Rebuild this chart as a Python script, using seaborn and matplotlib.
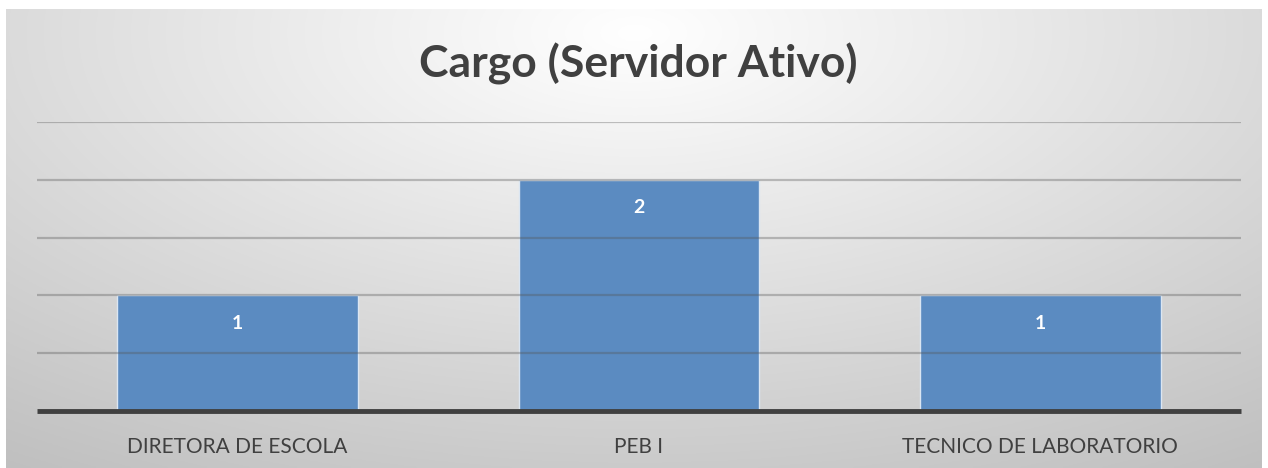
import numpy as np
import pandas as pd
import matplotlib
matplotlib.use("Agg")
import matplotlib.pyplot as plt
import seaborn as sns

categories = ["DIRETORA DE ESCOLA", "PEB I", "TECNICO DE LABORATORIO"]
values = [1, 2, 1]
title = "Cargo (Servidor Ativo)"

sns.set_theme(style="white")
plt.rcParams["font.family"] = ["Lato", "DejaVu Sans"]

W, H = 1268, 468
fig = plt.figure(figsize=(W / 100, H / 100), dpi=100)
fig.patch.set_facecolor("white")

# background radial gradient panel
bg = fig.add_axes([6 / W, 0, (W - 12) / W, (H - 9) / H])
yy, xx = np.mgrid[0:200, 0:600]
cx, cy = 300, 10
d = np.sqrt(((xx - cx) / 600) ** 2 + ((yy - cy) / 260) ** 2)
d = np.clip(d / d.max(), 0, 1)
shade = 1.0 - 0.25 * d
img = np.dstack([shade, shade, shade])
bg.imshow(img, aspect="auto", extent=[0, 1, 0, 1], origin="upper")
bg.set_axis_off()

# main axes: x 37..1241, y baseline 411, top (2.5) at 122
rect = [37 / W, (H - 411) / H, (1241 - 37) / W, (411 - 122) / H]
ax = fig.add_axes(rect)
ax.patch.set_alpha(0)
df = pd.DataFrame({"cat": categories, "val": values})
sns.barplot(data=df, x="cat", y="val", ax=ax, color="#5b8bc1", width=0.6,
            edgecolor="#dbe6f2", linewidth=1.0, saturation=1)
ax.set_xlim(-0.5, 2.5)
ax.set_ylim(0, 2.5)
for s in ax.spines.values():
    s.set_visible(False)
ax.set_yticks([])
ax.set_xlabel("")
ax.set_ylabel("")
ax.tick_params(axis="x", length=0, pad=19, labelsize=15, labelcolor="#404040")

# overlay axes for gridlines drawn on top of the bars
ov = fig.add_axes(rect, sharey=ax)
ov.set_xlim(-0.5, 2.5)
ov.patch.set_alpha(0)
ov.set_axis_off()
ov.hlines([0.5, 1.0, 1.5, 2.0, 2.5], -0.5, 2.5, colors="#555555", alpha=0.35,
          lw=1.6)
ov.hlines([0], -0.5, 2.5, colors="#404040", lw=3.5, clip_on=False)

for i, v in enumerate(values):
    ov.annotate(str(v), (i, v), xytext=(0, -28), textcoords="offset pixels",
                ha="center", va="center", color="white", fontsize=14,
                fontweight="bold")

fig.text(638 / W, 1 - 64 / H, title, ha="center", va="center",
         fontsize=32, fontweight="bold", color="#404040")

fig.savefig("out.png", dpi=100)
